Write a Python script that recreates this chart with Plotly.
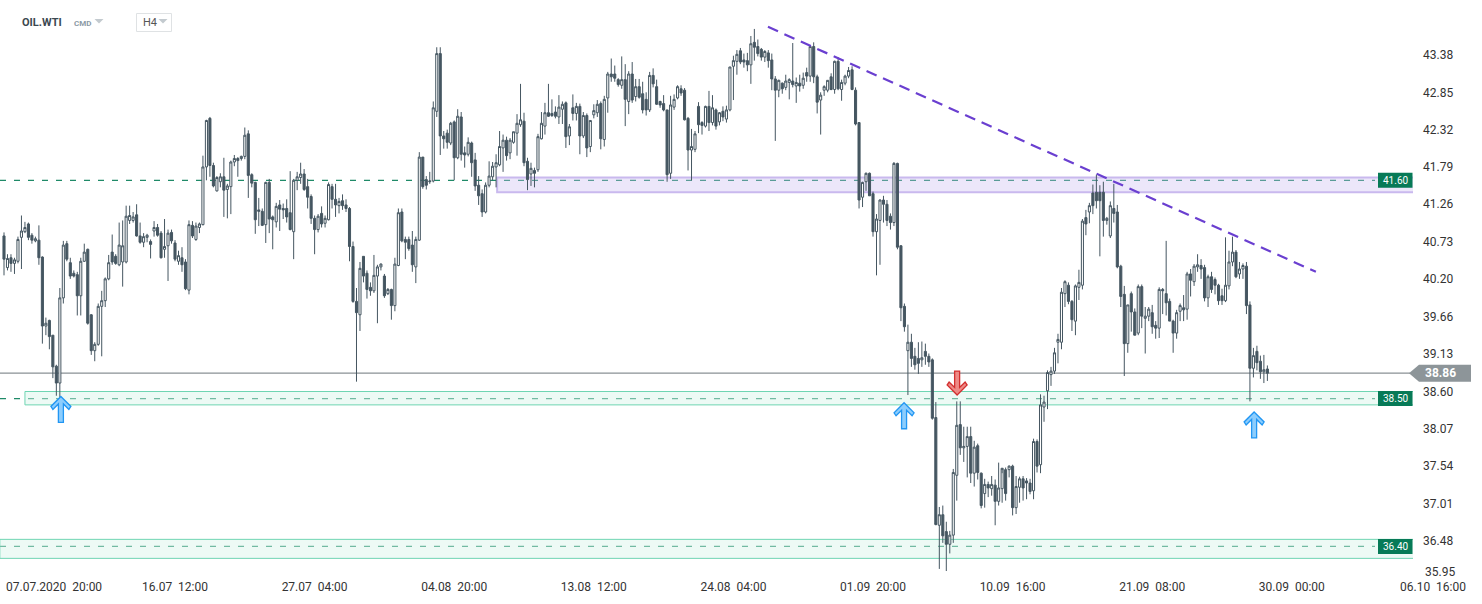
import plotly.graph_objects as go

# ---------------- DATA (OIL.WTI, H4) ----------------
opens = [
 40.81,40.36,40.50,40.42,40.45,40.79,40.87,40.98,40.82,40.74,40.75,40.51,39.53,39.61,39.40,38.96,38.72,39.93,40.70,40.43,
 40.28,40.26,39.96,40.45,40.62,39.69,39.18,39.27,39.81,39.89,40.20,40.58,40.52,40.40,40.44,40.44,41.03,41.03,41.11,40.81,
 40.72,40.79,40.73,40.88,40.93,
 40.85,40.62,40.67,40.86,40.71,40.45,40.50,40.44,40.04,40.96,40.76,40.93,40.97,41.79,42.48,41.81,41.45,41.58,41.65,41.47,
 41.51,41.86,41.91,41.91,41.94,42.26,41.68,41.57,41.18,41.16,40.97,41.57,41.08,41.01,41.25,41.20,41.20,41.14,40.87,41.60,
 41.64,41.69,41.51,41.37,41.06,40.90,
 41.13,40.99,41.04,41.51,41.33,41.24,41.31,41.25,41.20,40.66,39.88,39.69,40.52,40.28,40.08,40.03,40.24,40.37,40.24,39.99,
 40.05,39.82,40.39,41.15,40.76,40.76,40.68,40.37,40.75,41.93,41.61,41.58,41.59,42.58,43.40,42.23,42.27,42.13,42.43,41.92,
 42.50,41.99,41.97,42.13,41.89,41.53,
 41.41,41.15,41.53,41.65,41.79,41.82,42.06,42.17,41.99,42.14,42.27,42.39,42.44,41.87,41.69,41.74,41.75,42.19,42.37,42.56,
 42.55,42.57,42.50,42.61,42.70,42.23,42.63,42.55,42.65,42.23,42.52,42.08,42.53,42.56,42.69,42.18,42.77,43.11,43.11,43.03,
 42.95,43.03,42.72,43.11,42.79,42.93,
 42.83,42.75,42.60,43.09,42.93,42.72,42.69,42.60,41.70,42.64,42.77,42.90,42.88,42.48,42.03,42.04,42.65,42.42,42.37,42.65,
 42.42,42.60,42.43,42.58,42.47,42.60,43.22,43.29,43.44,43.31,43.30,43.24,43.56,43.50,43.46,43.35,43.41,43.31,43.04,42.88,
 42.98,42.92,42.99,43.01,42.94,42.98,
 42.95,43.13,43.08,43.50,43.07,42.74,42.88,42.88,43.07,42.89,43.29,42.89,42.98,43.08,43.17,42.88,42.42,41.36,41.58,41.70,
 41.41,40.87,41.03,41.32,41.26,41.09,41.00,41.84,40.67,39.81,39.18,39.30,39.10,39.07,39.05,39.17,39.10,39.05,38.23,36.70,
 36.85,36.61,36.43,36.56,37.41,
 38.13,37.80,37.82,37.96,37.44,37.83,37.44,37.15,37.28,37.22,37.27,37.04,37.22,37.49,37.49,37.54,36.95,37.24,37.36,37.33,
 37.30,37.19,37.89,37.56,38.38,38.61,38.84,38.89,39.30,39.30,39.99,40.11,39.88,39.60,40.08,40.11,41.07,41.15,41.42,41.43,
 41.43,41.43,41.03,40.81,41.20,41.15,
 40.38,39.98,39.28,39.99,39.73,39.43,40.09,39.64,39.67,39.72,39.54,39.50,40.05,39.99,39.88,39.60,39.43,39.74,39.79,39.77,
 40.27,40.16,40.37,40.39,40.36,39.93,40.23,40.19,40.11,39.96,39.89,40.10,40.44,40.58,40.27,40.34,40.38,39.83,38.93,39.17,
 39.03,38.88,38.92,
]
highs = [
 40.86,40.55,40.55,40.50,40.80,41.10,41.01,41.00,40.85,40.80,40.96,40.52,39.65,39.62,39.40,38.98,40.07,40.74,40.74,40.50,
 40.32,40.30,40.50,40.70,40.63,39.70,39.30,39.85,40.03,40.22,40.54,40.83,40.55,41.00,41.03,41.24,41.24,41.15,41.26,41.00,
 40.85,40.84,40.76,41.02,40.98,
 40.88,41.05,40.90,40.90,40.75,40.60,40.65,40.48,41.03,41.02,41.00,41.00,41.95,42.46,42.50,41.85,41.66,41.70,41.92,41.55,
 41.88,41.96,41.93,41.95,42.35,42.31,41.70,41.58,41.35,41.20,41.58,41.62,41.10,41.28,41.32,41.27,41.33,41.73,41.62,41.72,
 41.85,41.76,41.62,41.40,41.10,41.12,
 41.23,41.10,41.57,41.55,41.55,41.35,41.40,41.33,41.22,40.73,40.07,40.44,40.52,40.32,40.15,40.54,40.40,40.42,40.27,40.07,
 40.06,40.50,41.20,41.20,40.80,40.80,40.88,40.80,42.00,41.93,41.66,41.72,42.72,43.49,43.49,42.30,42.32,42.43,42.45,42.61,
 42.57,42.08,42.21,42.15,41.99,41.66,
 41.47,41.57,41.87,41.86,41.97,42.30,42.25,42.22,42.20,42.29,42.54,42.97,42.56,41.92,41.85,41.78,42.26,42.57,42.70,42.97,
 42.75,42.65,42.81,42.72,42.72,42.40,42.82,42.70,42.69,42.57,42.55,42.45,42.68,42.74,42.72,42.80,43.14,43.33,43.23,43.05,
 43.36,43.25,43.15,43.28,43.04,43.04,
 43.00,42.85,43.14,43.19,43.03,42.73,42.81,42.60,42.80,42.82,42.95,42.95,42.91,42.50,42.33,42.30,42.71,42.44,42.66,42.87,
 42.81,42.62,42.57,42.65,42.66,43.21,43.37,43.45,43.48,43.40,43.41,43.65,43.75,43.60,43.48,43.45,43.45,43.40,43.08,43.03,
 42.99,43.10,43.05,43.55,43.06,43.10,
 43.13,43.20,43.52,43.56,43.10,42.85,42.95,43.02,43.12,43.30,43.35,43.03,43.10,43.21,43.22,42.92,42.42,41.58,41.71,41.71,
 41.44,41.12,41.33,41.38,41.32,41.13,41.86,41.85,40.68,39.85,39.55,39.42,39.22,39.30,39.31,39.28,39.14,39.07,38.45,36.96,
 36.98,36.75,36.62,37.50,38.46,
 38.46,38.10,38.10,38.10,37.90,37.86,37.45,37.36,37.32,37.40,37.35,37.59,37.44,37.52,37.55,37.56,37.40,37.39,37.40,37.37,
 37.36,37.93,37.92,38.56,38.54,38.90,38.95,39.22,39.42,40.07,40.18,40.15,39.90,40.12,40.33,41.05,41.18,41.28,41.54,41.68,
 41.53,41.58,41.08,41.30,41.55,41.25,
 40.40,40.10,39.83,40.02,39.78,40.12,40.12,39.80,39.80,39.83,39.60,40.08,40.07,40.74,39.92,39.62,39.76,39.85,39.97,40.30,
 40.34,40.41,40.55,40.48,40.40,40.26,40.30,40.22,40.13,40.06,40.79,40.60,40.80,40.61,40.44,40.42,40.44,39.88,39.22,39.25,
 39.11,39.12,38.97,
]
lows = [
 40.25,40.32,40.30,40.27,40.42,40.34,40.85,40.75,40.70,40.72,40.40,39.28,39.40,39.20,38.79,38.54,38.50,39.85,40.45,40.20,
 40.22,39.68,39.68,40.44,39.55,39.12,39.03,39.25,39.10,39.80,40.18,40.40,40.40,40.38,40.09,40.42,40.98,41.00,40.80,40.70,
 40.65,40.72,40.49,40.80,40.80,
 40.49,40.50,40.17,40.70,40.45,40.40,40.30,40.04,39.98,40.78,40.74,40.85,40.96,41.60,41.65,41.50,41.44,41.50,41.08,41.06,
 41.12,41.80,41.65,41.88,41.90,41.35,41.50,40.84,40.95,40.95,40.71,40.85,40.62,40.93,40.88,41.05,41.00,40.89,40.48,41.46,
 41.55,41.45,41.20,40.98,40.55,40.86,
 40.93,40.93,41.03,41.20,41.08,41.13,41.18,41.15,40.45,39.86,38.74,39.46,40.15,39.92,39.96,40.00,39.57,40.32,39.93,39.97,
 39.62,39.74,40.38,40.72,40.48,40.60,40.30,40.14,40.74,41.48,41.47,41.55,41.57,42.50,41.96,42.05,42.05,42.10,41.60,41.90,
 41.88,41.78,41.94,41.65,41.45,41.25,
 41.08,41.13,41.50,41.60,41.50,41.80,41.72,41.88,41.90,42.12,41.95,42.36,41.80,41.46,41.52,41.50,41.72,42.18,42.25,42.50,
 42.50,42.48,42.40,42.40,42.06,42.10,42.45,42.45,41.97,42.20,41.93,42.00,42.48,42.50,42.04,42.08,42.56,43.00,43.00,42.93,
 42.90,42.37,42.54,42.70,42.72,42.76,
 42.55,42.52,42.57,42.92,42.67,42.63,42.58,41.58,41.62,42.60,42.75,42.80,42.45,41.74,41.60,42.00,42.27,42.25,42.35,42.30,
 42.38,42.32,42.38,42.44,42.42,42.58,42.74,43.10,43.25,43.20,43.15,42.97,43.30,43.36,43.30,43.28,43.20,42.88,42.16,42.78,
 42.83,42.88,42.75,42.92,42.70,42.86,
 42.90,43.00,43.00,42.98,42.55,42.25,42.80,42.85,42.88,42.83,42.88,42.73,42.95,43.05,42.88,42.38,41.20,41.22,41.45,41.38,
 40.80,40.25,40.40,41.00,40.95,40.90,40.95,40.62,39.60,39.45,38.55,38.95,38.91,38.85,38.95,38.98,38.95,38.20,36.70,36.08,
 36.45,36.05,36.30,36.45,37.05,
 37.70,37.60,37.38,37.30,37.25,37.35,36.94,36.95,37.10,37.12,36.70,36.98,37.02,37.05,37.38,36.84,36.86,37.02,37.05,37.07,
 37.14,37.07,37.45,37.44,38.17,38.35,38.68,38.85,39.00,39.20,39.80,39.84,39.46,39.40,39.90,40.05,40.82,40.99,41.12,41.20,
 40.52,40.80,40.97,40.78,41.00,40.35,
 39.80,38.82,39.15,39.45,39.40,39.40,39.50,39.14,39.60,39.42,39.35,39.36,39.70,39.68,39.60,39.15,39.35,39.60,39.60,39.62,
 39.95,40.10,40.30,40.20,39.88,39.80,40.00,39.98,39.83,39.83,39.87,40.05,40.38,40.21,40.20,40.20,39.70,38.46,38.80,38.90,
 38.78,38.72,38.75,
]
closes = [
 40.48,40.49,40.42,40.47,40.76,40.88,40.93,40.79,40.75,40.77,40.50,39.53,39.57,39.38,38.95,38.72,39.93,40.68,40.48,40.24,
 40.24,39.96,40.45,40.58,39.57,39.18,39.27,39.81,39.89,40.20,40.43,40.44,40.42,40.68,40.67,41.09,41.10,41.08,40.81,40.72,
 40.80,40.82,40.69,40.93,40.82,
 40.50,40.66,40.85,40.74,40.48,40.53,40.40,40.06,40.97,40.81,40.95,40.98,41.79,42.45,41.81,41.52,41.64,41.65,41.46,41.52,
 41.86,41.91,41.88,41.94,42.24,41.67,41.56,41.04,41.16,40.96,41.57,41.05,41.04,41.23,41.19,41.18,41.08,40.90,41.60,41.65,
 41.69,41.47,41.36,41.06,40.90,41.09,
 40.98,41.06,41.54,41.33,41.25,41.30,41.24,41.20,40.66,39.88,39.72,40.35,40.24,40.05,40.03,40.25,40.37,40.41,39.96,40.05,
 39.82,40.41,41.14,40.74,40.72,40.63,40.40,40.76,41.93,41.51,41.53,41.59,42.63,43.40,42.23,42.19,42.14,42.41,41.92,42.51,
 41.97,41.96,42.14,41.85,41.52,41.38,
 41.15,41.53,41.66,41.80,41.85,42.08,42.17,41.95,42.17,42.29,42.41,42.46,41.85,41.61,41.77,41.70,42.22,42.41,42.56,42.51,
 42.52,42.51,42.64,42.68,42.22,42.36,42.55,42.65,42.23,42.52,42.06,42.45,42.59,42.68,42.19,42.75,43.11,43.07,43.05,42.96,
 43.03,42.75,43.11,42.74,42.93,42.78,
 42.60,42.60,43.09,42.97,42.68,42.67,42.60,41.68,42.67,42.75,42.93,42.84,42.46,42.03,42.08,42.26,42.39,42.38,42.65,42.42,
 42.63,42.37,42.56,42.50,42.60,43.21,43.30,43.39,43.28,43.28,43.24,43.54,43.49,43.40,43.35,43.43,43.30,43.04,42.88,43.02,
 42.90,43.01,43.03,42.96,42.99,42.94,
 43.05,43.08,43.50,43.07,42.71,42.81,42.93,43.02,42.89,43.29,42.90,42.99,43.08,43.16,42.89,42.40,41.32,41.57,41.70,41.38,
 40.87,41.05,41.32,41.26,41.03,41.00,41.84,40.65,39.79,39.52,39.30,39.07,38.98,39.00,39.08,39.10,39.02,38.22,36.71,36.85,
 36.55,36.43,36.56,37.45,38.12,
 37.80,37.82,37.96,37.44,37.81,37.45,36.98,37.28,37.23,37.28,37.04,37.23,37.51,37.15,37.54,36.95,37.25,37.36,37.23,37.30,
 37.18,37.89,37.54,38.41,38.45,38.87,38.89,39.15,39.34,40.01,40.16,39.88,39.62,40.10,40.15,41.02,40.98,41.24,41.24,41.31,
 41.31,41.03,41.06,41.24,41.13,40.37,
 39.95,39.28,39.83,39.73,39.40,40.09,39.67,39.67,39.77,39.52,39.50,40.05,40.03,39.86,39.60,39.43,39.72,39.82,39.76,40.27,
 40.18,40.38,40.40,40.34,39.93,40.23,40.05,40.11,39.89,39.89,40.11,40.44,40.58,40.23,40.34,40.39,39.82,38.93,39.11,39.01,
 38.88,38.91,38.86,
]
candle_idx = list(range(len(closes)))

# time axis labels (every 40 H4 candles)
time_tick_idx = [49, 89, 129, 169, 209, 249, 289, 329, 369]
time_tick_text = ["16.07  12:00", "27.07  04:00", "04.08  20:00", "13.08  12:00", "24.08  04:00",
                  "01.09  20:00", "10.09  16:00", "21.09  08:00", "30.09  00:00"]
first_time_label = "07.07.2020  20:00"
last_time_label = "06.10  16:00"

price_ticks = [43.38, 42.85, 42.32, 41.79, 41.26, 40.73, 40.20, 39.66, 39.13, 38.60,
               38.07, 37.54, 37.01, 36.48]
bottom_price_label = 35.95

# horizontal levels and zones
level_prices = [41.60, 38.50, 36.40]
zone_low = [41.43, 38.41, 36.23]
zone_high = [41.64, 38.60, 36.50]
zone_start_idx = [141.3, 6.0, -1.2]
last_price = 38.86

# trend line (two anchor points)
trend_idx = [218.9, 375.9]
trend_price = [43.78, 40.30]

# signal arrows
up_arrow_idx = [16.3, 257.9, 358.2]
up_arrow_price = [38.53, 38.44, 38.31]
down_arrow_idx = [273.1]
down_arrow_price = [38.55]

# ---------------- STYLE / GEOMETRY ----------------
W, H = 1482, 604
PLOT_W, PLOT_H = 1413, 578
PX_PER_IDX = 3.49
PX_PER_USD = 70.4
X0 = -4 / PX_PER_IDX
X1 = X0 + PLOT_W / PX_PER_IDX
Y1 = 43.38 + 55 / PX_PER_USD
Y0 = Y1 - PLOT_H / PX_PER_USD

CANDLE = "#455661"
GREEN = "#1f8a68"
FONT = "Roboto, Arial, sans-serif"


def px(xp):
    return xp / PLOT_W


def py(yp):
    return 1 - yp / PLOT_H


fig = go.Figure()
fig.add_trace(go.Candlestick(
    x=candle_idx, open=opens, high=highs, low=lows, close=closes,
    increasing=dict(line=dict(color=CANDLE, width=1), fillcolor="#ffffff"),
    decreasing=dict(line=dict(color=CANDLE, width=1), fillcolor=CANDLE),
    whiskerwidth=0, hoverinfo="skip", showlegend=False,
))

shapes = []
annotations = []

# zones
zone_styles = [
    dict(fill="rgba(200,185,240,0.35)", line="#c9b9ee", w=2),
    dict(fill="rgba(215,243,233,0.45)", line="#6fd5b3", w=1),
    dict(fill="rgba(215,243,233,0.45)", line="#6fd5b3", w=1),
]
for zs, lo, hi, st in zip(zone_start_idx, zone_low, zone_high, zone_styles):
    shapes.append(dict(type="rect", xref="x", yref="y", x0=zs, x1=X1 + 5, y0=lo, y1=hi,
                       fillcolor=st["fill"], line=dict(color=st["line"], width=st["w"]), layer="below"))

# dashed level lines
for lv in level_prices:
    shapes.append(dict(type="line", xref="paper", yref="y", x0=0, x1=px(1375), y0=lv, y1=lv,
                       line=dict(color=GREEN, width=1.2, dash="6px,8px"), layer="below"))

# last price line
shapes.append(dict(type="line", xref="paper", yref="y", x0=0, x1=px(1410), y0=last_price, y1=last_price,
                   line=dict(color="#8a9195", width=1.2), layer="below"))

# trend line
shapes.append(dict(type="line", xref="x", yref="y", x0=trend_idx[0], x1=trend_idx[1],
                   y0=trend_price[0], y1=trend_price[1],
                   line=dict(color="#6a3fd0", width=2.2, dash="11px,7px"), layer="above"))


def arrow_path(xi, yp, up, length):
    pts = [(0, 0), (10, 10), (8, 13), (2.5, 7.5), (2.5, length), (-2.5, length),
           (-2.5, 7.5), (-8, 13), (-10, 10)]
    s = -1 if up else 1
    coords = [(xi + dx / PX_PER_IDX, yp + s * dy / PX_PER_USD) for dx, dy in pts]
    return "M " + " L ".join(f"{a:.4f},{b:.4f}" for a, b in coords) + " Z"


for xi, yp in zip(up_arrow_idx, up_arrow_price):
    shapes.append(dict(type="path", xref="x", yref="y", path=arrow_path(xi, yp, True, 26),
                       fillcolor="#8ccdfd", line=dict(color="#2196f3", width=1.3), layer="above"))
for xi, yp in zip(down_arrow_idx, down_arrow_price):
    shapes.append(dict(type="path", xref="x", yref="y", path=arrow_path(xi, yp, False, 24),
                       fillcolor="#ee8a86", line=dict(color="#d32f2f", width=1.3), layer="above"))

# level tags on the right
tag_h = 7.5 / PX_PER_USD
for lv in level_prices:
    shapes.append(dict(type="rect", xref="paper", yref="y", x0=px(1378), x1=px(1412.5),
                       y0=lv - tag_h, y1=lv + tag_h, fillcolor="#077a57", line=dict(width=0), layer="above"))
    annotations.append(dict(xref="paper", yref="y", x=px(1395.5), y=lv, text=f"{lv:.2f}", showarrow=False,
                            font=dict(family=FONT, size=10, color="#ffffff"), xanchor="center", yanchor="middle"))

# last price tag (arrow-shaped)
th = 8.5 / PX_PER_USD
shapes.append(dict(type="path", xref="paper", yref="y",
                   path=(f"M {px(1409):.5f},{last_price:.4f} L {px(1419):.5f},{last_price + th:.4f} "
                         f"L {px(1471):.5f},{last_price + th:.4f} L {px(1471):.5f},{last_price - th:.4f} "
                         f"L {px(1419):.5f},{last_price - th:.4f} Z"),
                   fillcolor="#8d9599", line=dict(width=0), layer="above"))
annotations.append(dict(xref="paper", yref="y", x=px(1423), y=last_price, text=f"<b>{last_price:.2f}</b>",
                        showarrow=False, xanchor="left", yanchor="middle",
                        font=dict(family=FONT, size=12, color="#ffffff")))

# bottom price label and first/last time labels
annotations.append(dict(xref="paper", yref="paper", x=px(1423), y=py(572), text=f"{bottom_price_label:.2f}",
                        showarrow=False, xanchor="left", yanchor="middle",
                        font=dict(family=FONT, size=12, color="#333333")))
annotations.append(dict(xref="paper", yref="paper", x=px(4), y=py(587), text=first_time_label,
                        showarrow=False, xanchor="left", yanchor="middle",
                        font=dict(family=FONT, size=12, color="#333333")))
annotations.append(dict(xref="paper", yref="paper", x=px(1433), y=py(587), text=last_time_label,
                        showarrow=False, xanchor="center", yanchor="middle",
                        font=dict(family=FONT, size=12, color="#333333")))

# header
annotations.append(dict(xref="paper", yref="paper", x=px(20), y=py(22), text="<b>OIL.WTI</b>", showarrow=False,
                        xanchor="left", yanchor="middle", font=dict(family=FONT, size=11, color="#3b4850")))
annotations.append(dict(xref="paper", yref="paper", x=px(72), y=py(23), text="<b>CMD</b>", showarrow=False,
                        xanchor="left", yanchor="middle", font=dict(family=FONT, size=8, color="#8c9ba6")))
annotations.append(dict(xref="paper", yref="paper", x=px(141), y=py(22), text="H4", showarrow=False,
                        xanchor="left", yanchor="middle", font=dict(family=FONT, size=11, color="#555555")))
shapes.append(dict(type="rect", xref="paper", yref="paper", x0=px(136.5), x1=px(171.5), y0=py(31.5), y1=py(13.5),
                   fillcolor="rgba(255,255,255,0)", line=dict(color="#dfe2e4", width=1), layer="above"))
for cx in (99, 163):
    shapes.append(dict(type="path", xref="paper", yref="paper",
                       path=f"M {px(cx - 4.5):.5f},{py(19):.5f} L {px(cx + 4.5):.5f},{py(19):.5f} L {px(cx):.5f},{py(23.5):.5f} Z",
                       fillcolor="#c3cacf", line=dict(width=0), layer="above"))

fig.update_layout(
    width=W, height=H,
    margin=dict(l=0, r=W - PLOT_W, t=0, b=H - PLOT_H),
    paper_bgcolor="#ffffff", plot_bgcolor="#ffffff",
    showlegend=False,
    boxgap=0.15,
    shapes=shapes,
    annotations=annotations,
    font=dict(family=FONT, size=12, color="#333333"),
    xaxis=dict(range=[X0, X1], tickvals=time_tick_idx, ticktext=time_tick_text,
               showgrid=False, zeroline=False, showline=False, ticks="",
               rangeslider=dict(visible=False), fixedrange=True,
               tickfont=dict(family=FONT, size=12, color="#333333")),
    yaxis=dict(range=[Y0, Y1], side="right", tickvals=price_ticks,
               ticktext=[f"{v:.2f}" for v in price_ticks],
               showgrid=False, zeroline=False, showline=False, ticks="",
               ticklabelstandoff=9, fixedrange=True,
               tickfont=dict(family=FONT, size=12, color="#333333")),
)

fig.write_html("out.html", config={"displayModeBar": False},
               post_script="document.body.style.margin='0';document.body.style.overflow='hidden';")
